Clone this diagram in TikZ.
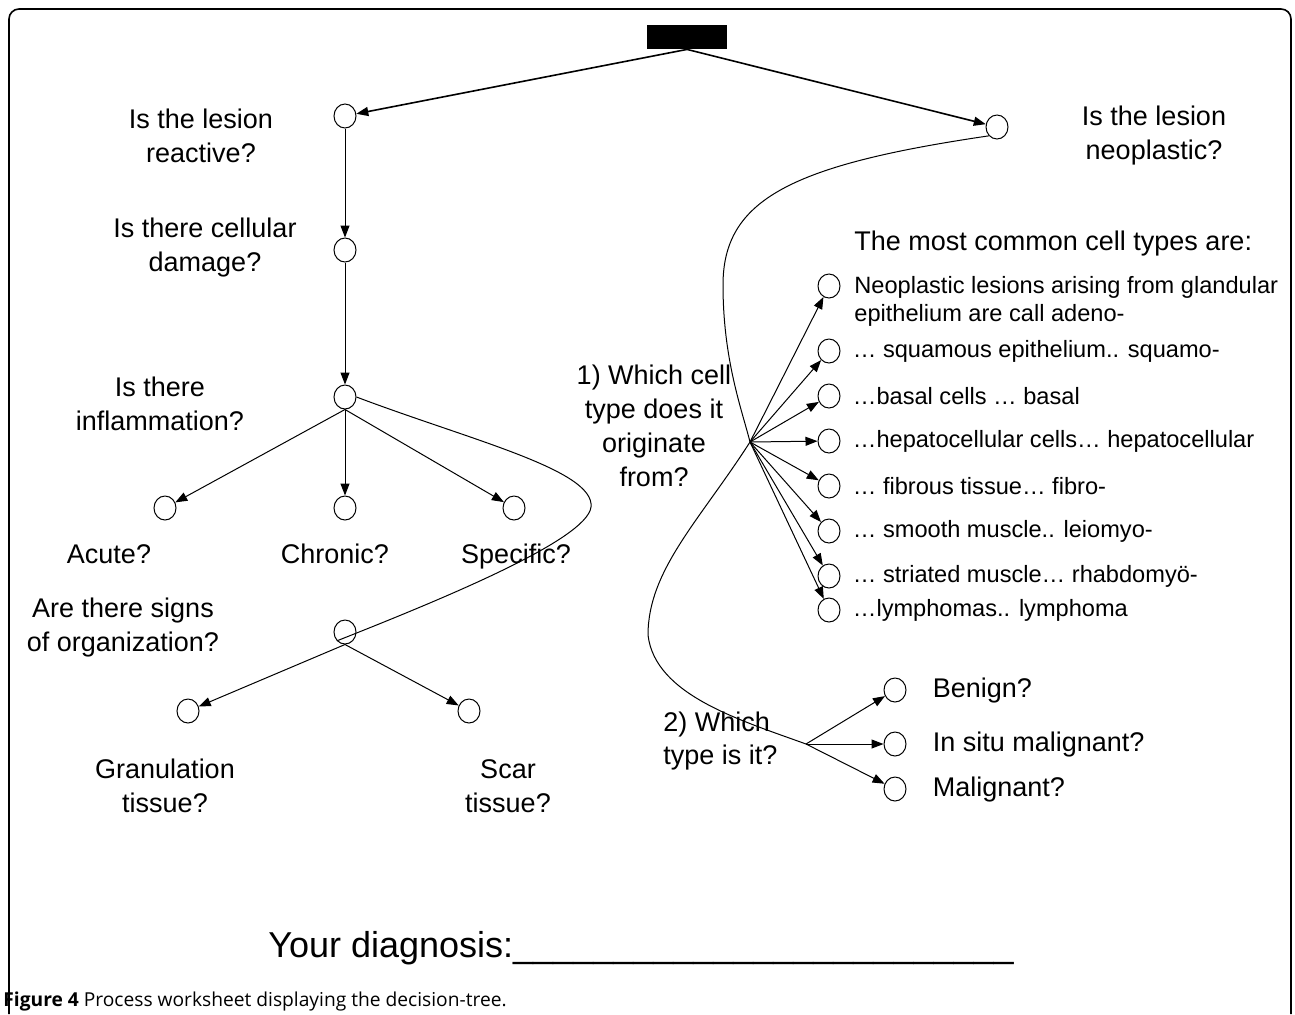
\documentclass[tikz,border=0pt]{standalone}
\usepackage{fontspec}
\setmainfont{Liberation Sans}
\newfontfamily\capfont{Open Sans}
\usetikzlibrary{shapes,arrows.meta,positioning}
\tikzstyle{choice}=[ellipse,
                    draw,
                    line width=0.5pt,
                    minimum width=11pt,
                    minimum height=12pt,
                    inner sep=0pt]
\tikzstyle{question}=[align=center, inner sep=0pt, font=\fontsize{13.5}{17}\selectfont]
\tikzstyle{word}=[inner sep=0pt, text height=10pt, text depth=3pt, font=\fontsize{13.5}{17}\selectfont]
\tikzstyle{answer}=[anchor=west, align=left, inner sep=0pt, font=\fontsize{13.5}{17}\selectfont]
\tikzstyle{celltype}=[anchor=west, align=left, inner sep=0pt, font=\fontsize{11.8}{14}\selectfont]
\tikzstyle{link}=[line width=0.5pt, -{Triangle[length=6pt,width=4.5pt]}]
\tikzstyle{curve}=[line width=0.5pt]

\begin{document}
\begin{tikzpicture}[x=0.5pt,y=-0.5pt]
    \useasboundingbox (0,0) rectangle (1295,1014);
    % frame, open at the bottom
    \draw[line width=0.8pt, rounded corners=5pt] (9,1014) -- (9,9) -- (1291,9) -- (1291,1014);

    \node[fill=black, minimum width=40pt, minimum height=12pt, inner sep=0pt] (root) at (687,37) {};

    % reactive branch
    \node[choice] (reactive) at (345,116) {};
    \node[choice] (damage) at (345,250) {};
    \node[choice] (inflam) at (345,397) {};
    \node[choice] (acute) at (165,508) {};
    \node[choice] (chronic) at (345,508) {};
    \node[choice] (specific) at (514,508) {};
    \node[choice] (organ) at (345,632) {};
    \node[choice] (granul) at (188,711) {};
    \node[choice] (scar) at (469,711) {};

    \node[question] at (201,136) {Is the lesion\\reactive?};
    \node[question] at (205,248) {Is there cellular\\damage?};
    \node[question] at (160,404) {Is there\\inflammation?};
    \node[word] at (109,556) {Acute?};
    \node[word] at (335,556) {Chronic?};
    \node[word] at (516,556) {Specific?};
    \node[question] at (123,628) {Are there signs\\of organization?};
    \node[question] at (165,786) {Granulation\\tissue?};
    \node[question] at (508,786) {Scar\\tissue?};

    % neoplastic branch
    \node[choice] (neoplastic) at (997,127) {};
    \node[question] at (1154,136) {Is the lesion\\neoplastic?};
    \coordinate (fan) at (750,442);
    \coordinate (kind) at (806,744);
    \node[question] at (654,426) {1) Which cell\\type does it\\originate\\from?};
    \node[answer] at (854,244) {The most common cell types are:};
    \foreach \y [count=\i] in {286,351,396,441,486,531,576,610}
        \node[choice] (c\i) at (829,\y) {};
    \node[celltype] at (854,301) {Neoplastic lesions arising from glandular\\epithelium are call adeno-};
    \node[celltype, right=6pt of c2] {… squamous epithelium.. squamo-};
    \node[celltype, right=6pt of c3] {…basal cells … basal};
    \node[celltype, right=6pt of c4] {…hepatocellular cells… hepatocellular};
    \node[celltype, right=6pt of c5] {… fibrous tissue… fibro-};
    \node[celltype, right=6pt of c6] {… smooth muscle.. leiomyo-};
    \node[celltype, right=6pt of c7] {… striated muscle… rhabdomyö-};
    \node[celltype, right=6pt of c8] {…lymphomas.. lymphoma};

    \node[answer] at (663,741) {2) Which\\type is it?};
    \node[choice] (benign) at (895,690) {};
    \node[choice] (insitu) at (895,744) {};
    \node[choice] (malig) at (895,789) {};
    \node[word, anchor=west, right=13pt of benign] {Benign?};
    \node[word, anchor=west, right=13pt of insitu] {In situ malignant?};
    \node[word, anchor=west, right=13pt of malig] {Malignant?};

    \node[anchor=west, inner sep=0pt, font=\fontsize{18}{20}\selectfont] (diag) at (268,948)
        {Your diagnosis:\_\_\_\_\_\_\_\_\_\_\_\_\_\_\_\_\_\_\_\_\_\_\_\_\_};
    \node[anchor=west, inner sep=0pt, font=\capfont\fontsize{9.6}{11}\selectfont] (caption) at (3,1001)
        {\textbf{Figure 4} Process worksheet displaying the decision-tree.};

    % connectors
    \draw[link, line width=0.8pt] (root.south) -- (reactive);
    \draw[link, line width=0.8pt] (root.south) -- (neoplastic);
    \draw[link] (reactive) -- (damage);
    \draw[link] (damage) -- (inflam);
    \draw[link] (inflam.south) -- (acute);
    \draw[link] (inflam.south) -- (chronic);
    \draw[link] (inflam.south) -- (specific);
    \draw[curve] (inflam.east) .. controls (470,440) and (595,470) .. (591,507)
        .. controls (587,540) and (440,600) .. (organ.south west);
    \draw[link] (organ.south) -- (granul);
    \draw[link] (organ.south) -- (scar);
    \draw[curve] (neoplastic.south west) .. controls (790,165) and (723,200) .. (723,285)
        .. controls (723,360) and (742,410) .. (fan)
        .. controls (700,520) and (648,570) .. (648,635)
        .. controls (655,695) and (740,720) .. (kind);
    \foreach \i in {1,...,8}
        \draw[link] (fan) -- (c\i);
    \draw[link] (kind) -- (benign);
    \draw[link] (kind) -- (insitu);
    \draw[link] (kind) -- (malig);
\end{tikzpicture}
\end{document}
